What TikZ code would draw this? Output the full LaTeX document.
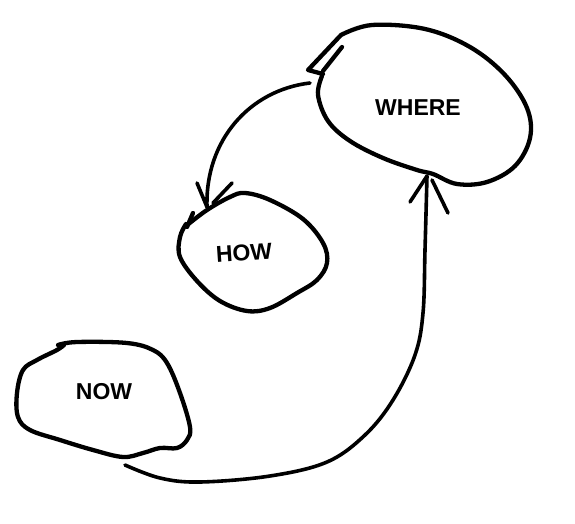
\documentclass[tikz,border=0pt]{standalone}
\usepackage{fontspec}
\setmainfont{Liberation Sans}
\begin{document}
\begin{tikzpicture}[x=1pt,y=-1pt,
  blob/.style={line width=4.3pt,line cap=round,line join=round},
  link/.style={line width=3.6pt,line cap=round,line join=round},
  lbl/.style={font=\fontsize{23}{23}\selectfont\bfseries,inner sep=0pt}]
\useasboundingbox (0,0) rectangle (575,524);
% WHERE blob
\draw[blob] (323,74) -- (308,70) -- (341,35) plot[smooth,tension=0.6] coordinates{(341,35) (372,25) (425,29) (470,47) (505,75) (527,108) (530,138) (515,166) (487,182) (457,184) (433,174) (417,170) (383,158) (350,141) (328,121) (318,95) (322,76)};
\draw[blob] (342,47) -- (323,71);
\node[lbl] (where) at (418,108) {WHERE};
% HOW blob
\draw[blob] plot[smooth,tension=0.6] coordinates{(186,226) (207,210) (230,197) (245,193) (270,200) (303,219) (323,243) (327,263) (317,280) (297,293) (270,308) (247,311) (220,301) (197,281) (180,257) (180,237) (186,224)};
\draw[blob] (193,213) -- (187,227);
\node[lbl,rotate=4] (how) at (244,253) {HOW};
% NOW blob
\draw[blob] plot[smooth,tension=0.6] coordinates{(58,345) (77,342) (127,343) (153,350) (167,363) (180,393) (190,427) (187,440) (177,448) (160,448) (143,453) (123,457) (93,450) (60,440) (30,430) (18,417) (17,393) (23,370) (37,360) (57,350) (64,345)};
\node[lbl] (now) at (104,392) {NOW};
% connectors
\coordinate (a1s) at (310,83);
\coordinate (a1e) at (207,207);
\draw[link] (a1s) .. controls (250,90) and (205,140) .. (a1e);
\draw[link] (197,183) -- (a1e);
\draw[link] (232,183) -- (213,203);
\coordinate (a2s) at (125,465);
\coordinate (a2e) at (427,176);
\draw[link] plot[smooth,tension=0.6] coordinates{(a2s) (160,478) (200,482) (270,476) (327,462) (365,435) (393,400) (415,355) (423,313) (425,250) (a2e)};
\draw[link] (410,202) -- (a2e);
\draw[link] (432,180) -- (448,213);
\end{tikzpicture}
\end{document}
